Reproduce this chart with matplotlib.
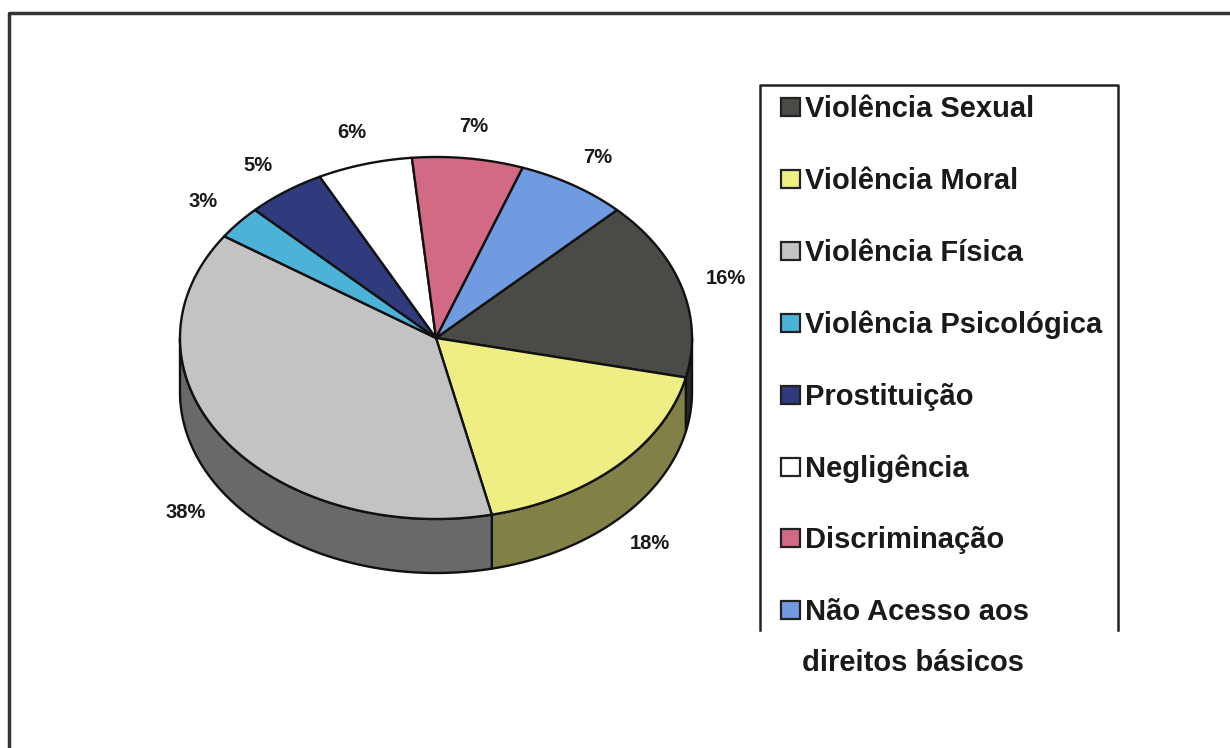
import matplotlib
matplotlib.use("Agg")
import matplotlib.pyplot as plt
import numpy as np
from matplotlib.patches import Polygon, Rectangle
from matplotlib.lines import Line2D

# Tipos de violência e percentuais
labels = [
  "Violência Sexual",
  "Violência Moral",
  "Violência Física",
  "Violência Psicológica",
  "Prostituição",
  "Negligência",
  "Discriminação",
  "Não Acesso aos\ndireitos básicos",
]
values = [16, 18, 38, 3, 5, 6, 7, 7]
top_colors = ["#4a4b46", "#eeee84", "#c3c3c3", "#4cb2d8",
              "#2f3b7c", "#ffffff", "#d26a84", "#709be0"]

# Geometria do disco (em pixels da figura)
cx, cy = 436, 338
rx, ry = 256, 181
depth = 54
start_angle = 45

plt.rcParams["font.family"] = ["Liberation Sans", "DejaVu Sans"]

fig = plt.figure(figsize=(12.3, 7.48), dpi=100)
ax = fig.add_axes([0, 0, 1, 1])
ax.set_xlim(0, 1230)
ax.set_ylim(748, 0)
ax.axis("off")


def arc(a1, a2, dy=0.0, n=120):
  t = np.radians(np.linspace(a1, a2, n))
  return np.column_stack([cx + rx * np.cos(t), cy + dy - ry * np.sin(t)])


def shade(color, f):
  rgb = np.array(matplotlib.colors.to_rgb(color))
  return tuple(rgb * f)


# Ângulos das fatias (sentido horário a partir de 45 graus)
edges = start_angle - np.concatenate([[0], np.cumsum(values)]) * 360.0 / sum(values)

# Parede lateral visível (metade da frente)
for i in range(len(values)):
  hi, lo = edges[i], edges[i + 1]
  for k in range(-2, 3):
    f_hi, f_lo = k * 360.0, k * 360.0 - 180.0
    a1, a2 = min(hi, f_hi), max(lo, f_lo)
    if a1 <= a2:
      continue
    top = arc(a1, a2)
    bottom = arc(a2, a1, dy=depth)
    side = Polygon(np.vstack([top, bottom]), closed=True,
                   facecolor=shade(top_colors[i], 0.54),
                   edgecolor="#111111", linewidth=1.7, joinstyle="round")
    ax.add_patch(side)

# Face superior
for i in range(len(values)):
  pts = np.vstack([[cx, cy], arc(edges[i], edges[i + 1])])
  wedge = Polygon(pts, closed=True, facecolor=top_colors[i],
                  edgecolor="#111111", linewidth=1.7, joinstyle="round")
  ax.add_patch(wedge)

# Rótulos de percentual
for i, v in enumerate(values):
  mid = np.radians((edges[i] + edges[i + 1]) / 2)
  r = 1.18
  x = cx + r * rx * np.cos(mid)
  y = cy - r * ry * np.sin(mid)
  if np.sin(mid) < 0:
    y += depth
  ax.text(x, y, f"{v}%", ha="center", va="center", fontsize=14.5,
          fontweight="bold", color="#1a1a1a")

# Legenda
box_left, box_right, box_top, box_bottom = 760, 1118, 85, 630
ax.add_line(Line2D([box_left, box_left, box_right, box_right],
                   [box_bottom, box_top, box_top, box_bottom],
                   color="#222222", linewidth=1.8))
for i, lab in enumerate(labels):
  base = 117 + 71.9 * i
  ax.add_patch(Rectangle((781, base - 19), 19, 18, facecolor=top_colors[i],
                         edgecolor="#222222", linewidth=1.6))
  for j, line in enumerate(lab.split("\n")):
    ax.text(805 - 3 * j, base + 51 * j, line, ha="left", va="baseline",
            fontsize=21, fontweight="bold", color="#1a1a1a")

# Moldura externa
ax.add_line(Line2D([9, 9, 1230], [748, 13, 13], color="#333333", linewidth=2.5))

fig.savefig("out.png", dpi=100)
